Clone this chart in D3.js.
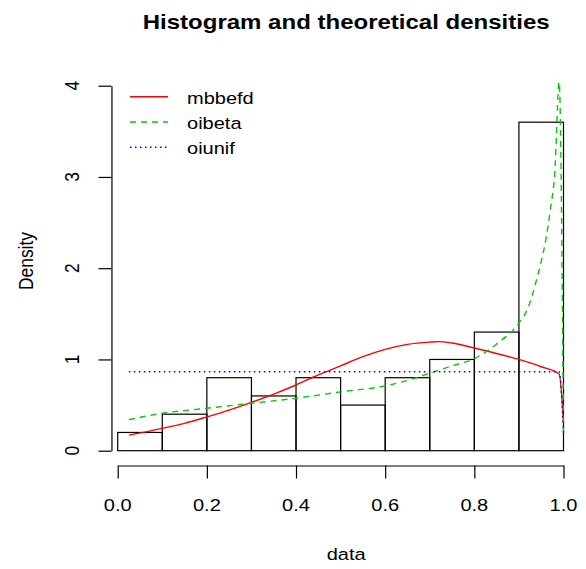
<!DOCTYPE html>
<html>
<head>
<meta charset="utf-8">
<script src="https://cdn.jsdelivr.net/npm/d3@7"></script>
<style>
  body { margin: 0; background: #fff; }
  text { font-family: "Liberation Sans", Arial, Helvetica, sans-serif; fill: #000; }
</style>
</head>
<body>
<script>
// histogram
var breaks = [0, 0.1, 0.2, 0.3, 0.4, 0.5, 0.6, 0.7, 0.8, 0.9, 1.0];
var density = [0.2, 0.4, 0.8, 0.6, 0.8, 0.5, 0.8, 1.0, 1.3, 3.6];

// fitted densities
var mbbefdX = [0.025, 0.1, 0.15, 0.2, 0.25, 0.3, 0.35, 0.4, 0.45, 0.5, 0.55, 0.6, 0.65, 0.7, 0.72, 0.75, 0.8, 0.85, 0.9, 0.95, 0.99025, 1.0];
var mbbefdY = [0.17, 0.245, 0.30, 0.37, 0.445, 0.53, 0.62, 0.72, 0.83, 0.93, 1.03, 1.11, 1.165, 1.19, 1.195, 1.18, 1.125, 1.065, 1.00, 0.92, 0.84, 0.30];

var oibetaX = [0.025, 0.1, 0.2, 0.3, 0.4, 0.5, 0.6, 0.65, 0.7, 0.75, 0.8, 0.85, 0.9, 0.92, 0.94, 0.95125, 0.961, 0.97075, 0.9805, 0.99025, 1.0];
var oibetaY = [0.34, 0.41, 0.465, 0.52, 0.575, 0.645, 0.71, 0.77, 0.85, 0.93, 1.01, 1.17, 1.40, 1.56, 1.88, 2.1, 2.33, 2.65, 3.05, 4.04, 0.14];

var oiunifX = [0.025, 0.99025, 1.0];
var oiunifY = [0.865, 0.865, 0.19];

var xTicks = [0, 0.2, 0.4, 0.6, 0.8, 1.0];
var yTicks = [0, 1, 2, 3, 4];

var legendNames = ['mbbefd', 'oibeta', 'oiunif'];
var legendColors = ['#ff0000', '#00cd00', '#0000ff'];
var legendDash = [null, '6,5', '1.5,3.5'];

var width = 586, height = 569;
var sx = 1.15;      // the picture is a little wider than it is tall
var fs = 17.4;

// data limits, as R sets them, then 4% extra on each side
var xlim = [0.025, 1], ylim = [0, 4.05];
var xr = [xlim[0] - 0.04 * (xlim[1] - xlim[0]), xlim[1] + 0.04 * (xlim[1] - xlim[0])];
var yr = [ylim[0] - 0.04 * (ylim[1] - ylim[0]), ylim[1] + 0.04 * (ylim[1] - ylim[0])];

var x = d3.scaleLinear().domain([0, 1]).range([117.7, 563.5]);
var y = d3.scaleLinear().domain([0, 4]).range([450.7, 85.7]);

var svg = d3.select('body').append('svg')
    .attr('width', width)
    .attr('height', height);

svg.append('defs').append('clipPath')
    .attr('id', 'plot-clip')
    .append('rect')
    .attr('x', x(xr[0]))
    .attr('y', y(yr[1]))
    .attr('width', x(xr[1]) - x(xr[0]))
    .attr('height', y(yr[0]) - y(yr[1]));

function addText(px, py, str, size, anchor, rotate, weight) {
    var g = svg.append('g')
        .attr('transform', 'translate(' + px + ',' + py + ') scale(' + sx + ',1)');
    var t = g.append('text')
        .attr('font-size', size)
        .attr('text-anchor', anchor)
        .text(str);
    if (rotate) t.attr('transform', 'rotate(' + rotate + ')');
    if (weight) t.attr('font-weight', weight);
    return t;
}

// bars
svg.append('g').selectAll('rect')
    .data(density)
    .enter().append('rect')
    .attr('x', (d, i) => x(breaks[i]))
    .attr('y', d => y(d))
    .attr('width', (d, i) => x(breaks[i + 1]) - x(breaks[i]))
    .attr('height', d => y(0) - y(d))
    .attr('fill', 'none')
    .attr('stroke', '#000')
    .attr('stroke-width', 1.2);

// curves
var line = d3.line()
    .x(d => x(d[0]))
    .y(d => y(d[1]))
    .curve(d3.curveMonotoneX);

var curves = [
    d3.zip(mbbefdX, mbbefdY),
    d3.zip(oibetaX, oibetaY),
    d3.zip(oiunifX, oiunifY)
];

var curveG = svg.append('g').attr('clip-path', 'url(#plot-clip)');
curves.forEach(function (pts, i) {
    var p = curveG.append('path')
        .attr('d', line(pts))
        .attr('fill', 'none')
        .attr('stroke', legendColors[i])
        .attr('stroke-width', 1.4);
    if (legendDash[i]) p.attr('stroke-dasharray', legendDash[i]);
});

// axes
var xAxis = svg.append('g')
    .attr('transform', 'translate(0,' + y(yr[0]) + ')')
    .call(d3.axisBottom(x).tickValues(xTicks).tickSize(13).tickSizeOuter(0).tickFormat(''));
var yAxis = svg.append('g')
    .attr('transform', 'translate(' + x(xr[0]) + ',0)')
    .call(d3.axisLeft(y).tickValues(yTicks).tickSize(13).tickSizeOuter(0).tickFormat(''));
[xAxis, yAxis].forEach(function (a) {
    a.selectAll('path, line').attr('stroke', '#000').attr('stroke-width', 1.2);
});

xTicks.forEach(function (v) {
    addText(x(v), 511, d3.format('.1f')(v), fs, 'middle');
});
yTicks.forEach(function (v) {
    addText(79, y(v), String(v), fs, 'middle', -90);
});

// titles
addText((x(xr[0]) + x(xr[1])) / 2, 29, 'Histogram and theoretical densities', fs * 1.2, 'middle', 0, 'bold');
addText((x(xr[0]) + x(xr[1])) / 2, 560, 'data', fs, 'middle');
addText(33, 261, 'Density', fs, 'middle', -90);

// legend
var rowY = [96.7, 122, 147.3];
legendNames.forEach(function (name, i) {
    var l = svg.append('line')
        .attr('x1', 130).attr('x2', 168)
        .attr('y1', rowY[i]).attr('y2', rowY[i])
        .attr('stroke', legendColors[i])
        .attr('stroke-width', 1.4);
    if (legendDash[i]) l.attr('stroke-dasharray', legendDash[i]);
    addText(187, rowY[i] + 7, name, fs, 'start');
});
</script>
</body>
</html>
